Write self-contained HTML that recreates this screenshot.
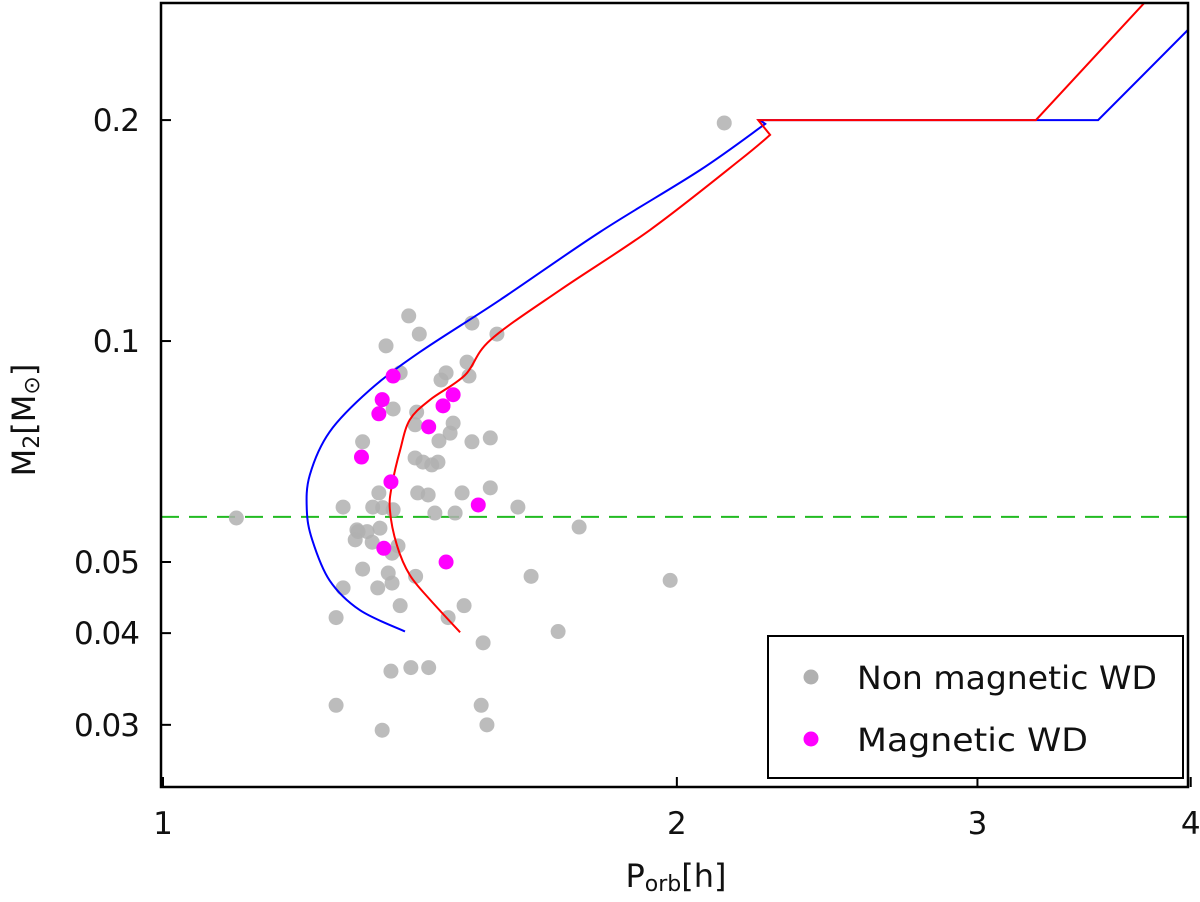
<!DOCTYPE html>
<html><head><meta charset="utf-8"><style>
html,body{margin:0;padding:0;background:#fff;}
svg{display:block;font-family:"DejaVu Sans","Liberation Sans",sans-serif;}
</style></head><body>
<svg id="chart" width="1200" height="902" viewBox="0 0 1200 902"></svg>
<script>
const xTicks=[1,2,3,4];
const xTickLabels=["1","2","3","4"];
const yTicks=[0.03,0.04,0.05,0.1,0.2];
const yTickLabels=["0.03","0.04","0.05","0.1","0.2"];
const nonMagP=[1.104,2.132,1.393,1.413,1.351,1.517,1.569,1.507,1.511,1.465,1.455,1.377,1.364,1.408,1.405,1.479,1.473,1.451,1.517,1.555,1.309,1.405,1.420,1.437,1.449,1.410,1.430,1.497,1.555,1.338,1.275,1.327,1.345,1.364,1.443,1.483,1.614,1.299,1.317,1.340,1.301,1.296,1.326,1.373,1.362,1.309,1.355,1.406,1.275,1.336,1.362,1.377,1.501,1.469,1.263,1.540,1.360,1.397,1.431,1.263,1.536,1.344,1.548,1.753,1.643,1.704,1.982];
const nonMagM=[0.0574,0.1982,0.1082,0.1022,0.0985,0.1058,0.1022,0.0936,0.0896,0.0905,0.0885,0.0905,0.0808,0.0800,0.0769,0.0773,0.0749,0.0731,0.0729,0.0738,0.0729,0.0693,0.0684,0.0678,0.0684,0.0621,0.0617,0.0621,0.0631,0.0621,0.0594,0.0594,0.0593,0.0589,0.0583,0.0583,0.0594,0.0553,0.0550,0.0556,0.0550,0.0536,0.0532,0.0526,0.0514,0.0489,0.0483,0.0478,0.0461,0.0461,0.0468,0.0436,0.0436,0.0420,0.0420,0.0388,0.0355,0.0359,0.0359,0.0319,0.0319,0.0295,0.0300,0.0558,0.0478,0.0402,0.0472];
const magP=[1.364,1.344,1.338,1.479,1.459,1.431,1.307,1.360,1.530,1.347,1.465];
const magM=[0.0896,0.0832,0.0796,0.0845,0.0816,0.0764,0.0695,0.0643,0.0598,0.0522,0.0500];
const blueP=[1.386,1.304,1.252,1.223,1.214,1.219,1.252,1.322,1.414,1.576,1.803,2.064,2.253,2.237,3.530,4.2];
const blueM=[0.0402,0.0430,0.0472,0.0536,0.0589,0.0657,0.0752,0.0858,0.0966,0.1138,0.1408,0.1710,0.1976,0.2000,0.2000,0.3000];
const redP=[1.493,1.434,1.395,1.371,1.358,1.362,1.377,1.395,1.434,1.503,1.555,1.708,1.929,2.178,2.268,2.232,3.246,3.772];
const redM=[0.0401,0.0444,0.0480,0.0527,0.0589,0.0637,0.0711,0.0781,0.0832,0.0899,0.1003,0.1173,0.1417,0.1765,0.1909,0.2000,0.2000,0.2917];
const limitM=0.0576;

const L=161,R=1188,T=3,B=787;
const X=p=>163+1707*Math.log10(p);
const Y=m=>562-734*Math.log10(m/0.05);
const NS="http://www.w3.org/2000/svg";
const svg=document.getElementById('chart');
function mk(tag,attrs,parent){const e=document.createElementNS(NS,tag);for(const k in attrs)e.setAttribute(k,attrs[k]);(parent||svg).appendChild(e);return e;}
const defs=mk('defs',{});
const cp=mk('clipPath',{id:'clip'},defs);
mk('rect',{x:L,y:T,width:R-L,height:B-T},cp);
const plot=mk('g',{'clip-path':'url(#clip)'});



const gl=mk('line',{x1:L,x2:R,y1:Y(limitM),y2:Y(limitM),stroke:'#22bb22','stroke-width':2,'stroke-dasharray':'18,10'},plot);



for(let i=0;i<nonMagP.length;i++){
  const c=mk('circle',{cx:X(nonMagP[i]),cy:Y(nonMagM[i]),r:7.5,fill:'#b0b0b0','fill-opacity':0.85},plot);
  
  
}
function line(P,M,col,name,nSmooth){
  const pts=P.map((p,i)=>[X(p),Y(M[i])]);
  let d='M'+pts[0][0].toFixed(1)+','+pts[0][1].toFixed(1);
  for(let i=1;i<pts.length;i++){
    if(i<nSmooth){
      const p0=pts[Math.max(i-2,0)],p1=pts[i-1],p2=pts[i],p3=pts[Math.min(i+1,nSmooth-1)];
      const c1=[p1[0]+(p2[0]-p0[0])/6,p1[1]+(p2[1]-p0[1])/6];
      const c2=[p2[0]-(p3[0]-p1[0])/6,p2[1]-(p3[1]-p1[1])/6];
      d+=' C'+c1.map(v=>v.toFixed(1)).join(',')+' '+c2.map(v=>v.toFixed(1)).join(',')+' '+p2[0].toFixed(1)+','+p2[1].toFixed(1);
    } else d+=' L'+pts[i][0].toFixed(1)+','+pts[i][1].toFixed(1);
  }
  const e=mk('path',{d:d,fill:'none',stroke:col,'stroke-width':2},plot);
  
  
}
line(blueP,blueM,'#0000ff','blue-track',13);
line(redP,redM,'#ff0000','red-track',15);
for(let i=0;i<magP.length;i++){
  const c=mk('circle',{cx:X(magP[i]),cy:Y(magM[i]),r:7.5,fill:'#ff00ff'},plot);
  
  
}
const fr=mk('rect',{x:L,y:T,width:R-L,height:B-T,fill:'none',stroke:'#000','stroke-width':2.5});



xTicks.forEach((v,i)=>{
  const x=X(v);
  const t=mk('line',{x1:x,x2:x,y1:B,y2:B-10,stroke:'#000','stroke-width':2});
  
  
  const tx=mk('text',{x:x,y:834,'font-size':31,'text-anchor':'middle',fill:'#111'});
  tx.textContent=xTickLabels[i];
  
  
});
yTicks.forEach((v,i)=>{
  const y=Y(v);
  const t=mk('line',{x1:L,x2:L+10,y1:y,y2:y,stroke:'#000','stroke-width':2});
  
  
  const tx=mk('text',{x:139,y:y+11,'font-size':31,'text-anchor':'end',fill:'#111','letter-spacing':'-1'});
  tx.textContent=yTickLabels[i];
  
  
});
</script>
<svg width="1200" height="902" style="position:absolute;left:0;top:0;font-family:'DejaVu Sans','Liberation Sans',sans-serif">
  <text x="676" y="887" font-size="32" text-anchor="middle" fill="#111">P<tspan font-size="22" dy="4">orb</tspan><tspan dy="-4">[h]</tspan></text>
  <text transform="translate(35,420) rotate(-90)" font-size="32" text-anchor="middle" fill="#111">M<tspan font-size="22" dy="4">2</tspan><tspan dy="-4">[M</tspan><tspan font-size="22" dy="4">⊙</tspan><tspan dy="-4">]</tspan></text>
  <g>
    <rect x="768" y="636" width="415" height="142" fill="#fff" stroke="#000" stroke-width="2"/>
    <circle cx="811" cy="677" r="7.5" fill="#b0b0b0"/>
    <text x="857" y="689" font-size="32" fill="#111" textLength="300" lengthAdjust="spacingAndGlyphs">Non magnetic WD</text>
    <circle cx="811" cy="739" r="7.5" fill="#ff00ff"/>
    <text x="857" y="751" font-size="32" fill="#111" textLength="231" lengthAdjust="spacingAndGlyphs">Magnetic WD</text>
  </g>
</svg>
</body></html>
